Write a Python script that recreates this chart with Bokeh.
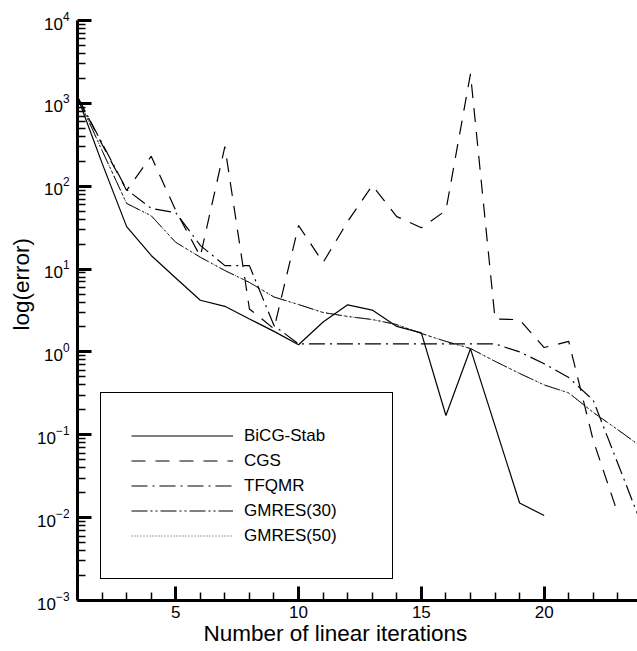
from bokeh.plotting import figure
from bokeh.models import FixedTicker, Range1d, Legend, LegendItem, Title
from bokeh.embed import file_html
from bokeh.resources import INLINE

# ---- data ----
iterations = list(range(1, 25))
bicgstab = [1200, 190, 32.5, 14.6, 7.8, 4.2, 3.55, 2.5, 1.77, 1.22,
            2.3, 3.7, 3.2, 2.03, 1.7, 0.171, 1.09, 0.128, 0.0150, 0.0106]
cgs = [1200, 320, 89, 230, 51, 14.2, 301, 3.3, 1.9, 33.6,
       12, 37.5, 102, 43, 31.5, 51, 2275, 2.5, 2.45, 1.13,
       1.34, 0.085, 0.0112]
tfqmr = [1200, 330, 91, 54, 48, 19.3, 11, 11, 2.08, 1.25,
         1.25, 1.25, 1.25, 1.25, 1.25, 1.25, 1.25, 1.25, 1.0, 0.72,
         0.49, 0.26, 0.045, 0.0078]
gmres30 = [1200, 270, 62, 44, 21, 13.9, 9.6, 6.9, 4.6, 3.73,
           2.99, 2.68, 2.46, 2.14, 1.67, 1.34, 1.10, 0.77, 0.55, 0.40,
           0.32, 0.186, 0.115, 0.07]
gmres50 = [1200, 270, 62, 44, 21, 13.9, 9.6, 6.9, 4.6, 3.73,
           2.99, 2.68, 2.46, 2.14, 1.67, 1.34, 1.10, 0.77, 0.55, 0.40,
           0.32, 0.186, 0.115, 0.07]
series_names = ["BiCG-Stab", "CGS", "TFQMR", "GMRES(30)", "GMRES(50)"]
x_major_ticks = [5, 10, 15, 20]
y_decades = list(range(-3, 5))
x_label = "Number of linear iterations"
y_label = "log(error)"

FONT = "Liberation Sans"

p = figure(width=637, height=651, output_backend="svg", toolbar_location=None,
           y_axis_type="log",
           x_range=Range1d(1, 23.8), y_range=Range1d(1e-3, 1e4),
           min_border_left=77, min_border_right=0, min_border_top=20,
           min_border_bottom=51)
p.outline_line_color = None
p.xgrid.visible = False
p.ygrid.visible = False
p.background_fill_color = "white"
p.border_fill_color = "white"

styles = [
    dict(line_dash="solid", line_color="black", line_width=1.2),
    dict(line_dash="14 10", line_color="black", line_width=1.2),
    dict(line_dash="16 5 2 5", line_color="black", line_width=1.2),
    dict(line_dash="16 3 2 3 2 3", line_color="black", line_width=1.0),
    dict(line_dash="1 2", line_color="#444444", line_width=1.0),
]
data = [bicgstab, cgs, tfqmr, gmres30, gmres50]
renderers = []
for ys, st in zip(data, styles):
    r = p.line(iterations[:len(ys)], ys, **st)
    renderers.append(r)

legend = Legend(
    items=[LegendItem(label=n, renderers=[r]) for n, r in zip(series_names, renderers)],
    location=(23, 21), padding=30, spacing=0, margin=0,
    glyph_width=102, glyph_height=25, label_height=25, label_width=118,
    label_standoff=11, label_text_font=FONT, label_text_font_size="17px",
    label_text_color="black", border_line_color="black", border_line_width=1,
    border_line_alpha=1.0,
    background_fill_color="white", background_fill_alpha=1.0,
)
p.add_layout(legend)

xa = p.xaxis[0]
ya = p.yaxis[0]
xa.ticker = FixedTicker(ticks=x_major_ticks,
                        minor_ticks=[i for i in range(2, 24) if i not in x_major_ticks])
ya.ticker = FixedTicker(ticks=[10.0 ** d for d in y_decades],
                        minor_ticks=[m * 10.0 ** d for d in y_decades[:-1] for m in range(2, 10)])
for ax in (xa, ya):
    ax.axis_line_width = 3
    ax.axis_line_color = "black"
    ax.major_tick_line_width = 3
    ax.minor_tick_line_width = 1.5
    ax.major_tick_in = 14
    ax.major_tick_out = 0
    ax.minor_tick_in = 8
    ax.minor_tick_out = 0
    ax.major_label_text_font = FONT
    ax.major_label_text_font_size = "17px"
    ax.major_label_text_color = "black"
xa.major_label_standoff = 5
ya.major_label_standoff = 8

# axis titles, placed as in the reference (not centred on the frame)
xt = Title(text=x_label, align="left", offset=126, vertical_align="top",
           standoff=0, text_font=FONT, text_font_size="22.5px",
           text_font_style="normal", text_color="black")
p.add_layout(xt, "below")
yt = Title(text=y_label, align="left", offset=270, vertical_align="middle",
           standoff=0, text_font=FONT, text_font_size="22.5px",
           text_font_style="normal", text_color="black")
p.add_layout(yt, "left")

open("out.html", "w").write(file_html(p, INLINE))
